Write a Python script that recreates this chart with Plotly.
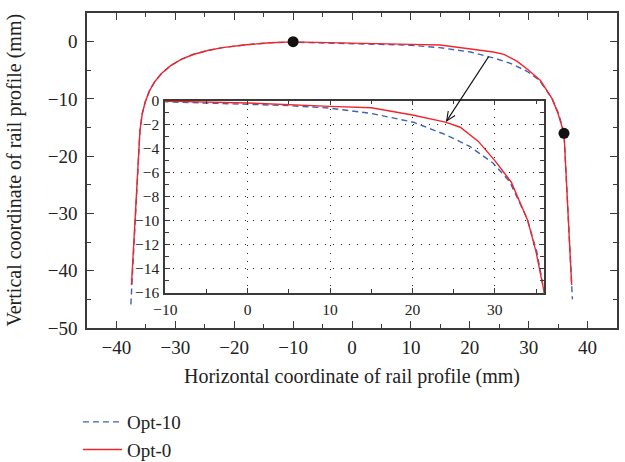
import math
import plotly.graph_objects as go

# ---- rail head profiles (mm) ----
opt0_x = [-37.45, -36.6, -36.0, -35.6, -35.1, -34.4, -33.5, -32.3, -30.8, -29.0,
          -27.0, -24.5, -22.0, -18.0, -14.0, -10.0, 0.0, 10.0, 15.0, 20.0, 24.0,
          25.8, 28.0, 30.0, 32.0, 34.0, 35.0, 36.0, 37.3]
opt0_y = [-42.5, -26.8, -15.4, -12.5, -10.5, -8.6, -7.0, -5.5, -4.2, -3.1,
          -2.25, -1.55, -1.05, -0.55, -0.2, -0.05, -0.2, -0.48, -0.6, -1.2, -1.8,
          -2.22, -3.4, -5.0, -6.8, -10.0, -12.6, -16.0, -42.5]

opt10_x = [-37.55, -36.6, -36.0, -35.6, -35.1, -34.4, -33.5, -32.3, -30.8, -29.0,
           -27.0, -24.5, -22.0, -18.0, -14.0, -10.0, 0.0, 5.0, 10.0, 14.85, 20.1,
           24.1, 27.0, 29.8, 31.8, 33.9, 35.1, 35.9, 36.0, 37.43]
opt10_y = [-45.9, -26.8, -15.4, -12.5, -10.5, -8.6, -7.0, -5.5, -4.2, -3.1,
           -2.25, -1.55, -1.05, -0.55, -0.2, -0.1, -0.3, -0.42, -0.63, -1.05, -1.8,
           -2.86, -3.83, -5.22, -6.75, -9.8, -12.6, -15.6, -16.0, -45.0]

# corners of the magnified window
window_x = [-10.0, 36.0]
window_y = [0.0, -16.0]

# arrow: from a point on the main curve to a point in the magnified window
arrow_from = (23.2, -2.62)     # main axes
arrow_to = (24.15, -1.69)      # inset axes

main_xrange = [-45, 45]
main_yrange = [-50, 5]
inset_xrange = [-10, 36]
inset_yrange = [-16, 0]

W, H = 625, 462
M = dict(l=87, r=8, t=13, b=134, autoexpand=False)
inset_xdom = [0.1477, 0.8628]
inset_ydom = [0.112, 0.722]

RED = "#f0262b"
BLUE = "#3f62b5"
AX = "#3a3a3a"
TXT = "#222222"
FONT = "Liberation Serif"

pw = W - M["l"] - M["r"]
ph = H - M["t"] - M["b"]


def main_to_px(x, y):
    px = M["l"] + (x - main_xrange[0]) / (main_xrange[1] - main_xrange[0]) * pw
    py = M["t"] + (main_yrange[1] - y) / (main_yrange[1] - main_yrange[0]) * ph
    return px, py


def px_to_main(px, py):
    x = main_xrange[0] + (px - M["l"]) / pw * (main_xrange[1] - main_xrange[0])
    y = main_yrange[1] - (py - M["t"]) / ph * (main_yrange[1] - main_yrange[0])
    return x, y


def inset_to_px(x, y):
    fx = inset_xdom[0] + (x - inset_xrange[0]) / (inset_xrange[1] - inset_xrange[0]) * (inset_xdom[1] - inset_xdom[0])
    fy = inset_ydom[0] + (y - inset_yrange[0]) / (inset_yrange[1] - inset_yrange[0]) * (inset_ydom[1] - inset_ydom[0])
    return M["l"] + fx * pw, M["t"] + (1 - fy) * ph


def py_to_paper(py):
    return (M["t"] + ph - py) / ph


fig = go.Figure()

# main view
fig.add_trace(go.Scatter(x=opt10_x, y=opt10_y, mode="lines", name="Opt-10",
                         line=dict(color=BLUE, width=1.4, dash="6px,4px")))
fig.add_trace(go.Scatter(x=opt0_x, y=opt0_y, mode="lines", name="Opt-0",
                         line=dict(color=RED, width=1.4)))
fig.add_trace(go.Scatter(x=window_x, y=window_y, mode="markers", showlegend=False,
                         marker=dict(color="#111111", size=11)))

# magnified view
fig.add_trace(go.Scatter(x=opt10_x, y=opt10_y, mode="lines", showlegend=False,
                         xaxis="x2", yaxis="y2",
                         line=dict(color=BLUE, width=1.4, dash="6px,4px")))
fig.add_trace(go.Scatter(x=opt0_x, y=opt0_y, mode="lines", showlegend=False,
                         xaxis="x2", yaxis="y2",
                         line=dict(color=RED, width=1.4)))

# arrow with an open head, drawn in main-axis coordinates
sx, sy = main_to_px(*arrow_from)
tx, ty = inset_to_px(*arrow_to)
ang = math.atan2(sy - ty, sx - tx)
head_len, head_ang = 10, math.radians(24)
h1 = (tx + head_len * math.cos(ang + head_ang), ty + head_len * math.sin(ang + head_ang))
h2 = (tx + head_len * math.cos(ang - head_ang), ty + head_len * math.sin(ang - head_ang))
p_s = px_to_main(sx, sy)
p_t = px_to_main(tx, ty)
p_h1 = px_to_main(*h1)
p_h2 = px_to_main(*h2)
shapes = [
    dict(type="line", xref="x", yref="y", x0=p_s[0], y0=p_s[1], x1=p_t[0], y1=p_t[1],
         line=dict(color="#111111", width=1.1)),
    dict(type="path", xref="x", yref="y",
         path=f"M{p_h1[0]},{p_h1[1]} L{p_t[0]},{p_t[1]} L{p_h2[0]},{p_h2[1]}",
         line=dict(color="#111111", width=1.1)),
]

tick_font = dict(family=FONT, size=19, color=TXT)
inset_font = dict(family=FONT, size=15.5, color=TXT)
title_font = dict(family=FONT, size=20, color=TXT)

fig.update_layout(
    width=W, height=H, margin=M,
    paper_bgcolor="white", plot_bgcolor="white",
    font=dict(family=FONT, color=TXT),
    shapes=shapes,
    showlegend=True,
    legend=dict(x=-0.017, y=py_to_paper(403), yanchor="top", xanchor="left",
                font=dict(family=FONT, size=19, color=TXT), itemwidth=39,
                bgcolor="rgba(0,0,0,0)", tracegroupgap=0),
    xaxis=dict(range=main_xrange, dtick=10, tick0=0, ticks="inside", ticklen=7,
               tickwidth=1.3, tickcolor=AX, showline=True, linecolor=AX, linewidth=1.6,
               mirror="ticks", showgrid=False, zeroline=False, tickfont=tick_font,
               ticklabelstandoff=1,
               minor=dict(ticks="inside", ticklen=4, dtick=5, tickcolor=AX, tickwidth=1.3)),
    yaxis=dict(range=main_yrange, dtick=10, tick0=0, ticks="inside", ticklen=7,
               tickwidth=1.3, tickcolor=AX, showline=True, linecolor=AX, linewidth=1.6,
               mirror="ticks", showgrid=False, zeroline=False, tickfont=tick_font,
               ticklabelstandoff=4,
               minor=dict(ticks="inside", ticklen=4, dtick=5, tickcolor=AX, tickwidth=1.3)),
    xaxis2=dict(domain=inset_xdom, anchor="y2", range=inset_xrange, dtick=10, tick0=0,
                ticks="inside", ticklen=5, tickwidth=1.2, tickcolor=AX, showline=True,
                linecolor=AX, linewidth=1.8, mirror="ticks", zeroline=False,
                showgrid=True, gridcolor="#222222", gridwidth=1, griddash="1px,7px",
                tickfont=inset_font, ticklabelstandoff=2,
                minor=dict(ticks="inside", ticklen=4, dtick=5, tickcolor=AX, tickwidth=1.2,
                           showgrid=False)),
    yaxis2=dict(domain=inset_ydom, anchor="x2", range=inset_yrange, dtick=2, tick0=0,
                ticks="inside", ticklen=5, tickwidth=1.2, tickcolor=AX, showline=True,
                linecolor=AX, linewidth=1.8, mirror="ticks", zeroline=False,
                showgrid=True, gridcolor="#222222", gridwidth=1, griddash="1px,7px",
                tickfont=inset_font, ticklabelstandoff=1,
                minor=dict(ticks="inside", ticklen=4, dtick=1, tickcolor=AX, tickwidth=1.2,
                           showgrid=False)),
    annotations=[
        dict(text="Horizontal coordinate of rail profile (mm)", xref="paper", yref="paper",
             x=0.5, y=py_to_paper(377), xanchor="center", yanchor="middle",
             showarrow=False, font=title_font),
        dict(text="Vertical coordinate of rail profile (mm)", xref="paper", yref="paper",
             x=(14 - M["l"]) / pw, y=0.5, xanchor="center", yanchor="middle", textangle=-90,
             showarrow=False, font=title_font),
    ],
)

fig.write_html("out.html")
